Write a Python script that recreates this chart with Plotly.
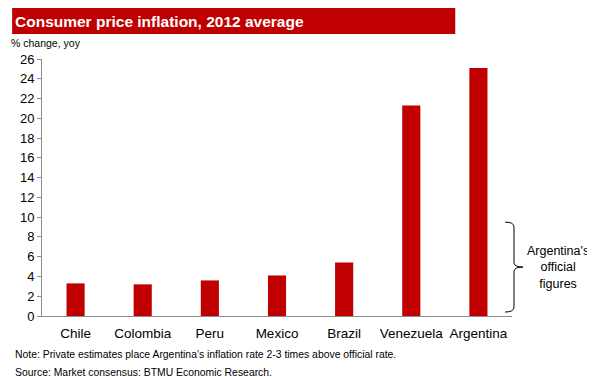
import plotly.graph_objects as go

countries = ["Chile", "Colombia", "Peru", "Mexico", "Brazil", "Venezuela", "Argentina"]
inflation = [3.3, 3.2, 3.6, 4.1, 5.4, 21.3, 25.1]
y_ticks = list(range(0, 27, 2))

title_text = "Consumer price inflation, 2012 average"
unit_text = "% change, yoy"
note_text = "Note: Private estimates place Argentina's inflation rate 2-3 times above official rate."
source_text = "Source: Market consensus: BTMU Economic Research."
bracket_text = "Argentina's<br>official<br>figures"
bracket_range = [0.4, 9.5]

RED = "#C00000"
FONT = "Arial, Liberation Sans, sans-serif"

# page body has an 8px margin; lay out in reference pixel coords minus that offset
OFF = 8
W, H = 595 - OFF, 377 - OFF
L, R, T, B = 40 - OFF, 595 - 512, 59 - OFF, 377 - 316
plot_w = W - L - R
plot_h = H - T - B

def px_x(px):
    return (px - OFF - L) / plot_w

def px_y(py):
    return (H - B - (py - OFF)) / plot_h

fig = go.Figure(go.Bar(x=countries, y=inflation, marker=dict(color=RED, line=dict(width=0)),
                       hoverinfo="x+y"))

lo, hi = bracket_range
mid = (lo + hi) / 2
x0, x1, x2 = px_x(505), px_x(514), px_x(523)
path = (f"M {x0},{hi} Q {x1},{hi} {x1},{hi-0.5} L {x1},{mid+0.45} "
        f"Q {x1},{mid} {x2},{mid} Q {x1},{mid} {x1},{mid-0.45} "
        f"L {x1},{lo+0.5} Q {x1},{lo} {x0},{lo}")

fig.update_layout(
    width=W, height=H,
    margin=dict(l=L, r=R, t=T, b=B),
    plot_bgcolor="white", paper_bgcolor="white",
    bargap=0.73,
    showlegend=False,
    font=dict(family=FONT, size=13, color="#000000"),
    xaxis=dict(showline=True, linecolor="#8c8c8c", linewidth=1, ticks="",
               tickfont=dict(size=13.5), showgrid=False, fixedrange=True,
               ticklabelstandoff=5),
    yaxis=dict(range=[0, 26], tickvals=y_ticks, showline=True, linecolor="#8c8c8c",
               linewidth=1, ticks="outside", ticklen=4, tickcolor="#8c8c8c",
               showgrid=False, zeroline=False, tickfont=dict(size=13), fixedrange=True),
    shapes=[
        dict(type="rect", xref="paper", yref="paper", x0=px_x(10), x1=px_x(455),
             y0=px_y(34), y1=px_y(8), fillcolor=RED, line=dict(width=0), layer="above"),
        dict(type="path", xref="paper", yref="y", path=path,
             line=dict(color="#000000", width=1)),
    ],
    annotations=[
        dict(text=f"<b>{title_text}</b>", xref="paper", yref="paper", x=px_x(11), y=px_y(21),
             xanchor="left", yanchor="middle", showarrow=False,
             font=dict(size=15.5, color="white", family=FONT)),
        dict(text=unit_text, xref="paper", yref="paper", x=px_x(7), y=px_y(43),
             xanchor="left", yanchor="middle", showarrow=False,
             font=dict(size=10.5, color="#000000")),
        dict(text=bracket_text, xref="paper", yref="y", x=px_x(558), y=mid,
             xanchor="center", yanchor="middle", showarrow=False, align="center",
             font=dict(size=12.5, color="#000000")),
        dict(text=note_text, xref="paper", yref="paper", x=px_x(11), y=px_y(354),
             xanchor="left", yanchor="middle", showarrow=False,
             font=dict(size=10.4, color="#000000")),
        dict(text=source_text, xref="paper", yref="paper", x=px_x(11), y=px_y(372),
             xanchor="left", yanchor="middle", showarrow=False,
             font=dict(size=10.4, color="#000000")),
    ],
)

fig.write_html("out.html")
